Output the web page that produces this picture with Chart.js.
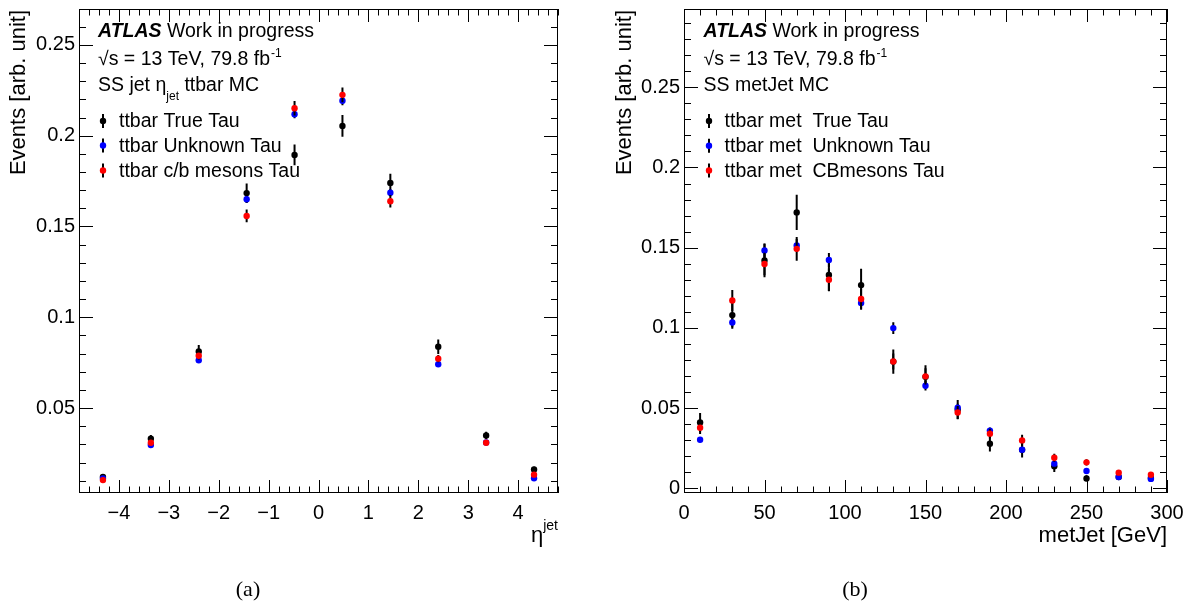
<!DOCTYPE html>
<html>
<head>
<meta charset="utf-8">
<script src="https://cdn.jsdelivr.net/npm/chart.js@4.4.1/dist/chart.umd.min.js"></script>
<style>
  html, body { margin: 0; padding: 0; background: #fff; }
  #wrap { position: relative; width: 1195px; height: 604px; }
  .panel { position: absolute; top: 0; }
  #panelA { left: 0; }
  #panelB { left: 597px; }
</style>
</head>
<body>
<div id="wrap">
  <div class="panel" id="panelA"><canvas id="etaChart" width="597" height="604"></canvas></div>
  <div class="panel" id="panelB"><canvas id="metChart" width="598" height="604"></canvas></div>
</div>
<script>
// jet eta, 10 bins from -4.8 to 4.8
const etaBins = [-4.32, -3.36, -2.40, -1.44, -0.48, 0.48, 1.44, 2.40, 3.36, 4.32];
const etaTrue    = [0.0121, 0.0331, 0.0812, 0.1684, 0.1894, 0.2054, 0.1740, 0.0838, 0.0349, 0.0162];
const etaTrueErr = [0.0015, 0.0020, 0.0035, 0.0053, 0.0057, 0.0060, 0.0050, 0.0040, 0.0020, 0.0015];
const etaUnk     = [0.0112, 0.0296, 0.0763, 0.1650, 0.2118, 0.2193, 0.1686, 0.0741, 0.0310, 0.0113];
const etaUnkErr  = [0.0008, 0.0012, 0.0015, 0.0020, 0.0022, 0.0025, 0.0020, 0.0015, 0.0010, 0.0008];
const etaCB      = [0.0103, 0.0309, 0.0788, 0.1558, 0.2151, 0.2225, 0.1639, 0.0772, 0.0309, 0.0133];
const etaCBErr   = [0.0010, 0.0013, 0.0020, 0.0035, 0.0040, 0.0040, 0.0035, 0.0020, 0.0013, 0.0010];

// met, 15 bins of 20 GeV
const metBins = [10, 30, 50, 70, 90, 110, 130, 150, 170, 190, 210, 230, 250, 270, 290];
const metTrue    = [0.0411, 0.1080, 0.1420, 0.1720, 0.1330, 0.1267, 0.0790, 0.0695, 0.0490, 0.0278, 0.0240, 0.0137, 0.0062, 0.0071, 0.0065];
const metTrueErr = [0.0058, 0.0085, 0.0104, 0.0110, 0.0102, 0.0102, 0.0075, 0.0072, 0.0060, 0.0048, 0.0048, 0.0035, 0.0020, 0.0018, 0.0015];
const metUnk     = [0.0303, 0.1034, 0.1483, 0.1514, 0.1423, 0.1155, 0.0999, 0.0640, 0.0503, 0.0360, 0.0241, 0.0154, 0.0108, 0.0071, 0.0059];
const metUnkErr  = [0.0015, 0.0030, 0.0044, 0.0040, 0.0044, 0.0035, 0.0037, 0.0030, 0.0025, 0.0020, 0.0020, 0.0015, 0.0012, 0.0010, 0.0010];
const metCB      = [0.0378, 0.1171, 0.1398, 0.1493, 0.1300, 0.1180, 0.0791, 0.0698, 0.0473, 0.0341, 0.0299, 0.0191, 0.0162, 0.0098, 0.0085];
const metCBErr   = [0.0040, 0.0065, 0.0070, 0.0074, 0.0070, 0.0066, 0.0050, 0.0050, 0.0040, 0.0030, 0.0035, 0.0025, 0.0020, 0.0012, 0.0012];

const SANS = '"Liberation Sans", Arial, Helvetica, sans-serif';
const SERIF = '"Liberation Serif", "Times New Roman", serif';
const TXT = 19.5;

function series(label, xs, ys, errs, color, order) {
  return {
    label: label,
    data: xs.map((x, i) => ({ x: x, y: ys[i] })),
    errors: errs,
    backgroundColor: color,
    borderColor: color,
    pointRadius: 3.2,
    pointBorderWidth: 0,
    pointHoverRadius: 3.2,
    showLine: false,
    order: order
  };
}

function minorValues(lo, hi, step) {
  const out = [];
  const start = Math.ceil(lo / step - 1e-6);
  for (let k = start; k * step <= hi + 1e-9; k++) out.push(k * step);
  return out;
}

// ROOT-like frame: inward ticks on all four sides, error bars, labels
const rootStyle = {
  id: 'rootStyle',
  beforeDatasetsDraw(chart, args, o) {
    const ctx = chart.ctx, a = chart.chartArea;
    const xs = chart.scales.x, ys = chart.scales.y;
    ctx.save();
    ctx.strokeStyle = '#000';
    ctx.lineWidth = 1;
    ctx.strokeRect(a.left + 0.5, a.top + 0.5, a.right - a.left - 1, a.bottom - a.top - 1);
    ctx.beginPath();
    minorValues(xs.min, xs.max, o.xMinor).forEach(v => {
      const px = Math.round(xs.getPixelForValue(v)) + 0.5;
      const major = Math.abs(v / o.xMajor - Math.round(v / o.xMajor)) < 1e-6;
      const len = major ? 13 : 6.5;
      ctx.moveTo(px, a.bottom); ctx.lineTo(px, a.bottom - len);
      ctx.moveTo(px, a.top); ctx.lineTo(px, a.top + len);
    });
    minorValues(ys.min, ys.max, o.yMinor).forEach(v => {
      const py = Math.round(ys.getPixelForValue(v)) + 0.5;
      const major = Math.abs(v / o.yMajor - Math.round(v / o.yMajor)) < 1e-6;
      const len = major ? 14 : 7;
      ctx.moveTo(a.left, py); ctx.lineTo(a.left + len, py);
      ctx.moveTo(a.right, py); ctx.lineTo(a.right - len, py);
    });
    ctx.stroke();
    ctx.restore();
  },
  beforeDatasetDraw(chart, args) {
    const ds = chart.data.datasets[args.index];
    const ys = chart.scales.y, ctx = chart.ctx;
    ctx.save();
    ctx.strokeStyle = '#000';
    ctx.lineWidth = 2;
    ctx.beginPath();
    args.meta.data.forEach((pt, i) => {
      const v = ds.data[i].y, e = ds.errors[i];
      ctx.moveTo(pt.x, ys.getPixelForValue(v - e));
      ctx.lineTo(pt.x, ys.getPixelForValue(v + e));
    });
    ctx.stroke();
    ctx.restore();
  },
  afterDraw(chart, args, o) {
    const ctx = chart.ctx, a = chart.chartArea;
    ctx.save();
    ctx.fillStyle = '#000';
    ctx.textBaseline = 'alphabetic';

    // header lines
    let x = o.textX;
    ctx.font = 'italic bold ' + TXT + 'px ' + SANS;
    ctx.fillText('ATLAS', x, 37);
    x += ctx.measureText('ATLAS').width;
    ctx.font = TXT + 'px ' + SANS;
    ctx.fillText(' Work in progress', x, 37);

    x = o.textX;
    const lumi = '\u221As = 13 TeV, 79.8 fb';
    ctx.fillText(lumi, x, 65);
    x += ctx.measureText(lumi).width;
    ctx.font = '12px ' + SANS;
    ctx.fillText('-1', x + 1, 57);

    ctx.font = TXT + 'px ' + SANS;
    x = o.textX;
    o.subtitle.forEach(part => {
      if (part.sub) {
        ctx.font = '12px ' + SANS;
        ctx.fillText(part.sub, x, 100);
        x += ctx.measureText(part.sub).width;
        ctx.font = TXT + 'px ' + SANS;
      } else {
        ctx.fillText(part.text, x, 91);
        x += ctx.measureText(part.text).width;
      }
    });

    // legend
    chart.data.datasets.forEach((ds, i) => {
      const cy = o.legendY[i];
      ctx.strokeStyle = '#000';
      ctx.lineWidth = 2;
      ctx.beginPath();
      ctx.moveTo(o.legendX, cy - 7);
      ctx.lineTo(o.legendX, cy + 7);
      ctx.stroke();
      ctx.fillStyle = ds.backgroundColor;
      ctx.beginPath();
      ctx.arc(o.legendX, cy, 3.2, 0, Math.PI * 2);
      ctx.fill();
      ctx.fillStyle = '#000';
      ctx.font = TXT + 'px ' + SANS;
      ctx.textBaseline = 'middle';
      ctx.fillText(ds.label, o.legendTextX, cy + 1);
      ctx.textBaseline = 'alphabetic';
    });

    // y title, top aligned
    ctx.save();
    ctx.translate(o.yTitleX, a.top + 1);
    ctx.rotate(-Math.PI / 2);
    ctx.font = '22px ' + SANS;
    ctx.textAlign = 'right';
    ctx.textBaseline = 'middle';
    ctx.fillText('Events [arb. unit]', 0, 0);
    ctx.restore();

    // x title, right aligned
    ctx.textAlign = 'right';
    if (o.xTitleSup) {
      ctx.font = '14px ' + SANS;
      ctx.fillText(o.xTitleSup, a.right, 530);
      const w = ctx.measureText(o.xTitleSup).width;
      ctx.font = '22px ' + SANS;
      ctx.fillText(o.xTitle, a.right - w, 542);
    } else {
      ctx.font = '22px ' + SANS;
      ctx.fillText(o.xTitle, a.right, 542);
    }

    // caption
    ctx.textAlign = 'center';
    ctx.font = '22px ' + SERIF;
    ctx.fillText(o.caption, o.captionX, 596);
    ctx.restore();
  }
};

function tickLabel(v) {
  const r = +v.toFixed(4);
  return r < 0 ? '\u2212' + Math.abs(r) : String(r);
}

function makeChart(canvasId, datasets, opt) {
  return new Chart(document.getElementById(canvasId), {
    type: 'scatter',
    data: { datasets: datasets },
    options: {
      responsive: false,
      animation: false,
      events: [],
      layout: { padding: { top: 9, right: opt.padRight, left: 0, bottom: 0 } },
      plugins: {
        legend: { display: false },
        tooltip: { enabled: false },
        rootStyle: opt
      },
      scales: {
        x: {
          type: 'linear',
          min: opt.xMin, max: opt.xMax,
          grid: { display: false, drawTicks: false },
          border: { display: false },
          ticks: {
            stepSize: opt.xMajor, includeBounds: false, autoSkip: false, maxRotation: 0,
            padding: 8, color: '#000', font: { family: SANS, size: 20 },
            callback: tickLabel
          },
          afterFit: s => { s.height = 111; s.paddingLeft = 0; s.paddingRight = 0; }
        },
        y: {
          type: 'linear',
          min: opt.yMin, max: opt.yMax,
          grid: { display: false, drawTicks: false },
          border: { display: false },
          ticks: {
            stepSize: opt.yMajor, includeBounds: false, autoSkip: false,
            padding: 4, color: '#000', font: { family: SANS, size: 20 },
            callback: tickLabel
          },
          afterFit: s => { s.width = opt.yAxisWidth; s.paddingTop = 0; s.paddingBottom = 0; }
        }
      }
    },
    plugins: [rootStyle]
  });
}

makeChart('etaChart', [
  series('ttbar True Tau', etaBins, etaTrue, etaTrueErr, '#000000', 3),
  series('ttbar Unknown Tau', etaBins, etaUnk, etaUnkErr, '#0000ff', 2),
  series('ttbar c/b mesons Tau', etaBins, etaCB, etaCBErr, '#ff0000', 1)
], {
  xMin: -4.8, xMax: 4.8, xMajor: 1, xMinor: 0.2,
  yMin: 0.0032, yMax: 0.2698, yMajor: 0.05, yMinor: 0.01,
  yAxisWidth: 79, padRight: 39,
  textX: 98, legendX: 103, legendTextX: 119, legendY: [121, 145.5, 170.5],
  subtitle: [{ text: 'SS jet \u03b7' }, { sub: 'jet' }, { text: ' ttbar MC' }],
  yTitleX: 19, xTitle: '\u03b7', xTitleSup: 'jet',
  caption: '(a)', captionX: 248
});

makeChart('metChart', [
  series('ttbar met  True Tau', metBins, metTrue, metTrueErr, '#000000', 3),
  series('ttbar met  Unknown Tau', metBins, metUnk, metUnkErr, '#0000ff', 2),
  series('ttbar met  CBmesons Tau', metBins, metCB, metCBErr, '#ff0000', 1)
], {
  xMin: 0, xMax: 300, xMajor: 50, xMinor: 10,
  yMin: -0.0029, yMax: 0.2988, yMajor: 0.05, yMinor: 0.01,
  yAxisWidth: 87, padRight: 28,
  textX: 106.5, legendX: 112, legendTextX: 127.6, legendY: [121, 145.7, 170.5],
  subtitle: [{ text: 'SS metJet MC' }],
  yTitleX: 28, xTitle: 'metJet [GeV]', xTitleSup: null,
  caption: '(b)', captionX: 258
});
</script>
</body>
</html>
